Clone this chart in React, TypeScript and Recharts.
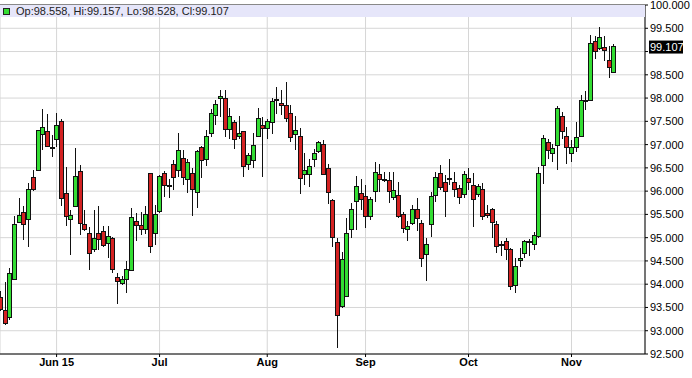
import React from "react";
import {
  ComposedChart,
  Bar,
  XAxis,
  YAxis,
  CartesianGrid,
  ReferenceLine,
} from "recharts";

document.body.style.margin = "0";

// daily candles, mid May 2015 .. mid Nov 2015
const opens = [
  93.72, 93.44, 93.275, 94.11, 95.325, 95.55, 95.4, 96.3, 96.45, 97.225,
  97.28, 96.94, 97.1, 97.49, 95.95, 95.4, 95.67, 96.43, 95.275, 95.1,
  94.74, 95.1, 95.13, 94.87, 94.99, 94.15, 94.025, 94.1, 94.3, 95.35,
  95.26, 95.18, 96.38, 95.08, 95.56, 96.38, 96.13, 96.58, 96.44, 96.7,
  96.25, 96.38, 95.97, 96.94, 96.67, 97.24, 97.63, 97.99, 98.0, 97.33,
  97.475, 97.18, 97.275, 96.58, 96.65, 97.18, 97.42, 97.35, 97.475, 97.97,
  97.88, 97.85, 97.67, 97.22, 97.18, 96.36, 96.35, 96.69, 96.86, 97.0,
  96.48, 95.8, 94.9, 93.525, 93.74, 95.17, 95.775, 95.95, 95.88, 95.45,
  96.0, 96.36, 96.24, 96.22, 95.86, 95.9, 95.5, 95.17, 95.31, 95.6,
  95.31, 94.63, 95.275, 95.9, 96.38, 96.18, 96.27, 96.18, 96.05, 95.92,
  96.275, 96.12, 95.92, 96.04, 95.51, 95.6, 95.275, 94.86, 94.92, 94.75,
  93.97, 94.52, 94.67, 94.9, 94.85, 95.025, 96.56, 97.04, 96.8, 96.99,
  97.6, 97.18, 96.81, 96.94, 97.18, 97.92, 97.95, 99.225, 99.06, 99.08,
  98.8, 98.558,
];
const highs = [
  93.85, 94.04, 94.35, 95.47, 95.85, 95.67, 96.17, 96.45, 97.31, 97.775,
  97.65, 97.2, 97.68, 97.54, 96.525, 95.6, 96.92, 96.56, 95.6, 95.225,
  95.6, 95.68, 95.24, 95.24, 95.02, 94.25, 94.17, 94.49, 95.63, 95.54,
  95.56, 95.68, 96.4, 95.7, 96.35, 96.44, 96.27, 96.67, 97.24, 96.88,
  96.7, 96.49, 96.88, 96.97, 97.31, 97.77, 97.95, 98.17, 98.17, 97.79,
  97.525, 97.62, 97.29, 96.83, 97.26, 97.79, 97.6, 97.56, 98.0, 98.24,
  98.17, 98.35, 97.86, 97.62, 97.35, 96.81, 96.69, 96.9, 97.07, 97.1,
  96.575, 95.83, 94.99, 94.7, 95.42, 95.74, 96.33, 96.26, 96.13, 95.88,
  96.63, 96.575, 96.42, 96.42, 96.42, 96.19, 95.55, 95.35, 95.7, 95.85,
  95.38, 94.99, 95.99, 96.42, 96.56, 96.35, 96.7, 96.42, 96.13, 96.43,
  96.49, 96.38, 96.15, 96.17, 95.7, 95.63, 95.36, 94.92, 94.99, 94.77,
  94.56, 94.775, 94.95, 94.97, 95.13, 96.525, 97.2, 97.13, 97.02, 97.825,
  97.7, 97.38, 97.1, 97.49, 98.06, 98.15, 99.35, 99.325, 99.525, 99.325,
  99.11, 99.157,
];
const lows = [
  93.42, 93.13, 93.24, 94.1, 95.31, 94.95, 94.81, 96.0, 96.43, 96.88,
  96.94, 96.74, 96.95, 95.67, 95.24, 94.63, 95.65, 95.06, 95.15, 94.31,
  94.7, 94.74, 94.81, 94.56, 94.24, 93.58, 93.99, 93.81, 94.275, 94.92,
  95.06, 95.08, 94.68, 94.85, 95.525, 95.88, 95.85, 96.025, 96.31, 96.13,
  95.95, 95.47, 95.63, 96.275, 96.54, 97.17, 97.42, 97.6, 97.17, 97.13,
  96.9, 97.13, 96.31, 96.45, 96.5, 97.16, 96.31, 97.13, 97.22, 97.65,
  97.63, 97.49, 97.06, 96.88, 95.93, 96.13, 96.08, 96.525, 96.81, 96.35,
  95.72, 94.81, 92.63, 93.49, 93.72, 94.99, 95.17, 95.6, 95.2, 95.38,
  95.775, 95.99, 96.19, 95.74, 95.81, 95.42, 95.1, 94.92, 95.275, 95.15,
  94.36, 94.06, 95.025, 95.775, 96.025, 95.45, 96.13, 95.88, 95.725, 95.85,
  96.025, 95.225, 95.88, 95.38, 95.42, 94.99, 94.67, 94.6, 94.53, 93.88,
  93.81, 94.37, 94.56, 94.6, 94.725, 94.99, 96.15, 96.7, 96.63, 96.45,
  97.11, 96.58, 96.63, 96.85, 97.17, 97.75, 97.94, 98.83, 99.04, 98.8,
  98.44, 98.528,
];
const closes = [
  93.45, 93.15, 94.225, 95.275, 95.47, 95.275, 96.03, 96.03, 97.3, 97.37,
  96.95, 96.91, 97.4, 95.85, 95.45, 95.47, 96.325, 95.31, 95.17, 94.65,
  94.99, 94.97, 94.825, 95.025, 94.31, 94.05, 94.1, 94.325, 95.44, 95.26,
  95.18, 95.49, 94.8, 95.49, 96.31, 96.13, 96.12, 96.3, 96.87, 96.3,
  96.61, 96.04, 96.85, 96.65, 97.17, 97.67, 97.86, 98.03, 97.33, 97.6,
  97.12, 97.23, 96.52, 96.76, 96.975, 97.56, 97.35, 97.49, 97.93, 97.95,
  97.83, 97.56, 97.15, 97.3, 96.27, 96.44, 96.54, 96.81, 97.05, 96.36,
  95.975, 95.01, 93.33, 94.54, 95.1, 95.61, 96.11, 95.83, 95.45, 95.83,
  96.4, 96.24, 96.26, 96.0, 96.01, 95.45, 95.2, 95.24, 95.6, 95.42,
  94.56, 94.86, 95.88, 96.3, 96.08, 95.99, 96.25, 96.04, 95.87, 96.35,
  96.18, 95.825, 96.1, 95.45, 95.47, 95.325, 94.81, 94.83, 94.75, 93.94,
  94.37, 94.55, 94.92, 94.92, 95.04, 96.38, 97.13, 96.88, 96.92, 97.775,
  97.275, 96.94, 96.94, 97.15, 97.95, 97.95, 99.17, 98.99, 99.3, 99.025,
  98.65, 99.107,
];

// index of the first trading day of each month
const monthTicks = [12, 34, 57, 78, 100, 122];
const monthLabels = ["Jun 15", "Jul", "Aug", "Sep", "Oct", "Nov"];

const yTicks = [
  92.5, 93, 93.5, 94, 94.5, 95, 95.5, 96, 96.5, 97, 97.5, 98, 98.5, 99, 99.5, 100,
];

const last = { o: 98.558, h: 99.157, l: 98.528, c: 99.107 };

const data = opens.map((o, i) => ({
  i,
  o,
  h: highs[i],
  l: lows[i],
  c: closes[i],
  range: [lows[i], highs[i]],
}));

const UP = "#33dd33";
const DOWN = "#d42222";
const FONT = "'Liberation Sans', Arial, sans-serif";

const Candle = (props: any) => {
  const { x, y, width, height, payload } = props;
  if (x == null || y == null) return null;
  const { o, h, l, c } = payload;
  const top0 = Math.min(y, y + height);
  const span = Math.abs(height);
  const k = h - l ? span / (h - l) : 0;
  const bTop = top0 + (h - Math.max(o, c)) * k;
  const bBot = top0 + (h - Math.min(o, c)) * k;
  const cx = Math.round(x + width / 2) + 0.5;
  return (
    <g shapeRendering="crispEdges">
      <line x1={cx} x2={cx} y1={top0} y2={top0 + span} stroke="#111" strokeWidth={1} />
      <rect
        x={cx - 2}
        y={bTop}
        width={4}
        height={Math.max(bBot - bTop, 1)}
        fill={c >= o ? UP : DOWN}
        stroke="#111"
        strokeWidth={1}
      />
    </g>
  );
};

const YTick = (props: any) => {
  const { x, y, payload } = props;
  // the last-price marker covers this label
  if (Math.abs(payload.value - last.c) < 0.15) return null;
  return (
    <text x={x} y={y} dy="0.36em" textAnchor="start" fontSize={11} fontFamily={FONT} fill="#000">
      {payload.value.toFixed(3)}
    </text>
  );
};

const LastLabel = (props: any) => {
  const vb = props.viewBox || {};
  const right = (vb.x || 0) + (vb.width || 0);
  const y = vb.y || 0;
  return (
    <g>
      <rect x={right + 4} y={y - 6} width={34} height={13} fill="#000" />
      <text x={right + 5} y={y} dy="0.36em" fontSize={11} fontFamily={FONT} fill="#fff">
        {last.c.toFixed(3)}
      </text>
    </g>
  );
};

export default function App() {
  return (
    <div style={{ position: "relative", width: 692, height: 378, background: "#fff" }}>
      <ComposedChart
        width={692}
        height={378}
        data={data}
        margin={{ top: 5, right: 0, left: 0, bottom: 0 }}
      >
        <CartesianGrid stroke="#d6d6d6" />
        <XAxis
          type="number"
          dataKey="i"
          domain={[-0.09, 137.7]}
          allowDataOverflow
          ticks={monthTicks}
          tickFormatter={(v) => monthLabels[monthTicks.indexOf(v)] ?? ""}
          height={24}
          tickSize={3}
          tickMargin={1}
          axisLine={{ stroke: "#000" }}
          tickLine={{ stroke: "#000" }}
          tick={{ fontSize: 11, fontWeight: "bold", fontFamily: FONT, fill: "#000" }}
          interval={0}
        />
        <YAxis
          orientation="right"
          domain={[92.5, 100]}
          ticks={yTicks}
          width={47}
          tickSize={3}
          tickMargin={2}
          axisLine={{ stroke: "#000" }}
          tickLine={{ stroke: "#000" }}
          tick={<YTick />}
          interval={0}
        />
        <Bar dataKey="range" barSize={4} shape={<Candle />} isAnimationActive={false} />
        <ReferenceLine y={last.c} stroke="none" label={<LastLabel />} />
      </ComposedChart>
      <div
        style={{
          position: "absolute",
          left: 0,
          top: 4,
          width: 645,
          height: 13,
          background: "#e6e6fa",
          borderTop: "1px solid #888",
          boxSizing: "border-box",
          fontFamily: FONT,
          fontSize: 11,
          lineHeight: "12px",
          color: "#222",
          whiteSpace: "nowrap",
        }}
      >
        <span
          style={{
            position: "absolute",
            left: 3,
            top: 3,
            width: 5,
            height: 5,
            background: UP,
            border: "1px solid #222",
          }}
        />
        <span style={{ position: "absolute", left: 16, top: 0 }}>
          {`Op:${last.o.toFixed(3)}, Hi:${last.h.toFixed(3)}, Lo:${last.l.toFixed(3)}, Cl:${last.c.toFixed(3)}`}
        </span>
      </div>
    </div>
  );
}
